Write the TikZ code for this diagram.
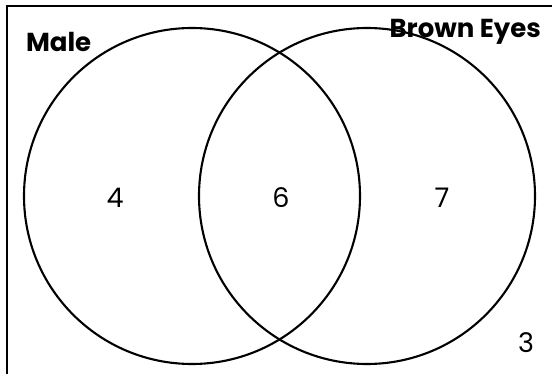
\documentclass[tikz,border=0pt]{standalone}
\usepackage{fontspec}
\setmainfont{Poppins}
\usepackage{tikz}

\begin{document}
\begin{tikzpicture}[x=1pt, y=-1pt, line width=2.1pt]
    \tikzset{
        setcircle/.style={circle, draw, minimum size=336pt, inner sep=0pt},
        setlabel/.style={font=\fontsize{26}{30}\selectfont\bfseries, inner sep=0pt},
        count/.style={font=\fontsize{27}{30}\selectfont, inner sep=0pt}
    }
    \useasboundingbox (0,0) rectangle (552,374);
    \clip (0,0) rectangle (552,374);

    % Universal set frame (runs off the page right and bottom)
    \draw[line width=2.4pt] (7,380) -- (7,6) -- (560,6);

    % The two sets
    \node[setcircle] (male) at (192,196) {};
    \node[setcircle] (brown) at (367,196) {};

    % Set names
    \node[setlabel, anchor=west] (malelbl) at (25,42) {Male};
    \node[setlabel, anchor=east] (brownlbl) at (542,32) {Brown Eyes};

    % Counts
    \node[count] (onlymale) at (115,198) {4};
    \node[count] (both) at (281,198) {6};
    \node[count] (onlybrown) at (442,198) {7};
    \node[count] (neither) at (526,343) {3};
\end{tikzpicture}
\end{document}
